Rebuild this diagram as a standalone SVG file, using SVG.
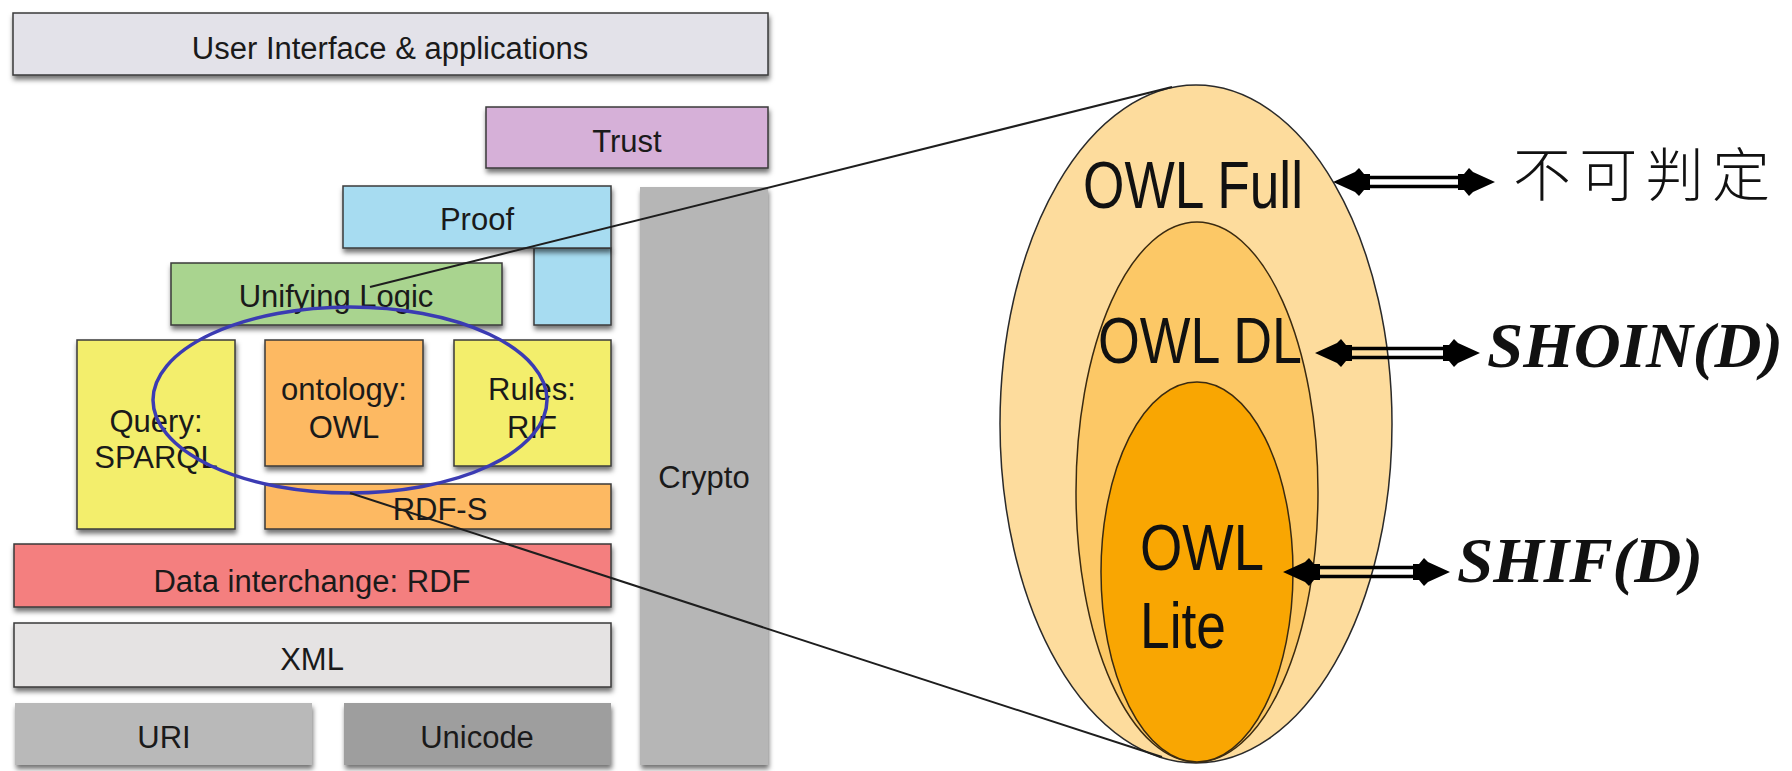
<svg xmlns="http://www.w3.org/2000/svg" width="1792" height="771" viewBox="0 0 1792 771">
<defs>
<filter id="sh" x="-10%" y="-20%" width="120%" height="150%">
<feDropShadow dx="1" dy="4" stdDeviation="2.5" flood-color="#000" flood-opacity="0.55"/>
</filter>
<polygon id="head" points="0,0 22,-10 26,-14 31,-8 37,-8 37,8 31,8 26,14 22,10"/>
</defs>
<style>
.box{stroke:#3a3a3a;stroke-width:1.5;filter:url(#sh)}
.flat{stroke:none;filter:url(#sh)}
.lbl{font-family:"Liberation Sans",Arial,sans-serif;font-size:31px;fill:#1a1a1a;text-anchor:middle}
.owl{font-family:"Liberation Sans",Arial,sans-serif;fill:#111}
.dl{font-family:"Liberation Serif","Times New Roman",serif;font-style:italic;font-weight:bold;font-size:64px;fill:#111}
.conn{stroke:#1e1e1e;stroke-width:2;fill:none}
.dbl{stroke:#000;stroke-width:3.5}
</style>
<rect width="1792" height="771" fill="#fff"/>

<g id="ui"><rect class="box" x="13" y="13" width="755" height="62" fill="#e3e2e9"/><text class="lbl" x="390" y="59">User Interface &amp; applications</text></g>
<g id="trust"><rect class="box" x="486" y="107" width="282" height="61" fill="#d6b0d8"/><text class="lbl" x="627" y="152">Trust</text></g>
<g id="crypto"><rect class="flat" x="640" y="187" width="128" height="578" fill="#b6b6b6"/><text class="lbl" x="704" y="488">Crypto</text></g>
<g id="proof"><rect class="box" x="534" y="248" width="77" height="77" fill="#a7dcf1"/><rect class="box" x="343" y="186" width="268" height="62" fill="#a7dcf1"/><text class="lbl" x="477" y="230">Proof</text></g>
<g id="logic"><rect class="box" x="171" y="263" width="331" height="62" fill="#a9d48f"/><text class="lbl" x="336" y="307">Unifying Logic</text></g>
<g id="query"><rect class="box" x="77" y="340" width="158" height="189" fill="#f3ee6c"/><text class="lbl" x="156" y="432">Query:</text><text class="lbl" x="156" y="468">SPARQL</text></g>
<g id="ontology"><rect class="box" x="265" y="340" width="158" height="126" fill="#fdb962"/><text class="lbl" x="344" y="400">ontology:</text><text class="lbl" x="344" y="438">OWL</text></g>
<g id="rules"><rect class="box" x="454" y="340" width="157" height="126" fill="#f3ee6c"/><text class="lbl" x="532" y="400">Rules:</text><text class="lbl" x="532" y="438">RIF</text></g>
<g id="rdfs"><rect class="box" x="265" y="484" width="346" height="45" fill="#fdb962"/><text class="lbl" x="440" y="520">RDF-S</text></g>
<g id="rdf"><rect class="box" x="14" y="544" width="597" height="63" fill="#f47f7f"/><text class="lbl" x="312" y="592">Data interchange: RDF</text></g>
<g id="xml"><rect class="box" x="14" y="623" width="597" height="64" fill="#e5e3e3"/><text class="lbl" x="312" y="670">XML</text></g>
<g id="uri"><rect class="flat" x="15" y="703" width="297" height="62" fill="#b9b9b9"/><text class="lbl" x="164" y="748">URI</text></g>
<g id="unicode"><rect class="flat" x="344" y="703" width="267" height="62" fill="#9e9e9e"/><text class="lbl" x="477" y="748">Unicode</text></g>

<g id="highlight"><ellipse cx="350" cy="400" rx="197" ry="93" fill="none" stroke="#3b3bb3" stroke-width="3.5"/></g>

<g id="owl-full"><ellipse cx="1196" cy="424" rx="196" ry="339" fill="#fddc9d" stroke="#2a2a2a" stroke-width="1.5"/><text class="owl" x="1083" y="208" font-size="67" textLength="220" lengthAdjust="spacingAndGlyphs">OWL Full</text></g>
<g id="owl-dl"><ellipse cx="1197" cy="492" rx="121" ry="270" fill="#fcc866" stroke="#3a2a10" stroke-width="1.5"/><text class="owl" x="1098" y="363" font-size="64" textLength="204" lengthAdjust="spacingAndGlyphs">OWL DL</text></g>
<g id="owl-lite"><ellipse cx="1197" cy="572" rx="96" ry="190" fill="#f9a602" stroke="#3a2a10" stroke-width="1.5"/><text class="owl" x="1140" y="570" font-size="64" textLength="124" lengthAdjust="spacingAndGlyphs">OWL</text><text class="owl" x="1140" y="648" font-size="64" textLength="86" lengthAdjust="spacingAndGlyphs">Lite</text></g>

<g id="connectors">
<line class="conn" x1="370" y1="287" x2="1172" y2="87"/>
<line class="conn" x1="350" y1="493" x2="1162" y2="757"/>
<g id="arrow-full"><line class="dbl" x1="1366" y1="177.5" x2="1462" y2="177.5"/><line class="dbl" x1="1366" y1="186.5" x2="1462" y2="186.5"/><use href="#head" transform="translate(1333,182)"/><use href="#head" transform="translate(1495,182) scale(-1,1)"/></g>
<g id="arrow-dl"><line class="dbl" x1="1348" y1="348.5" x2="1447" y2="348.5"/><line class="dbl" x1="1348" y1="357.5" x2="1447" y2="357.5"/><use href="#head" transform="translate(1315,353)"/><use href="#head" transform="translate(1480,353) scale(-1,1)"/></g>
<g id="arrow-lite"><line class="dbl" x1="1316" y1="567.5" x2="1417" y2="567.5"/><line class="dbl" x1="1316" y1="576.5" x2="1417" y2="576.5"/><use href="#head" transform="translate(1283,572)"/><use href="#head" transform="translate(1450,572) scale(-1,1)"/></g>
</g>

<g id="labels">
<text x="1513" y="196" font-family="'Noto Sans CJK SC','Noto Sans CJK JP',sans-serif" font-size="58" font-weight="300" fill="#111" textLength="257" lengthAdjust="spacing">不可判定</text>
<text class="dl" x="1487" y="367" textLength="296" lengthAdjust="spacingAndGlyphs">SHOIN(D)</text>
<text class="dl" x="1457" y="582" textLength="246" lengthAdjust="spacingAndGlyphs">SHIF(D)</text>
</g>
</svg>
